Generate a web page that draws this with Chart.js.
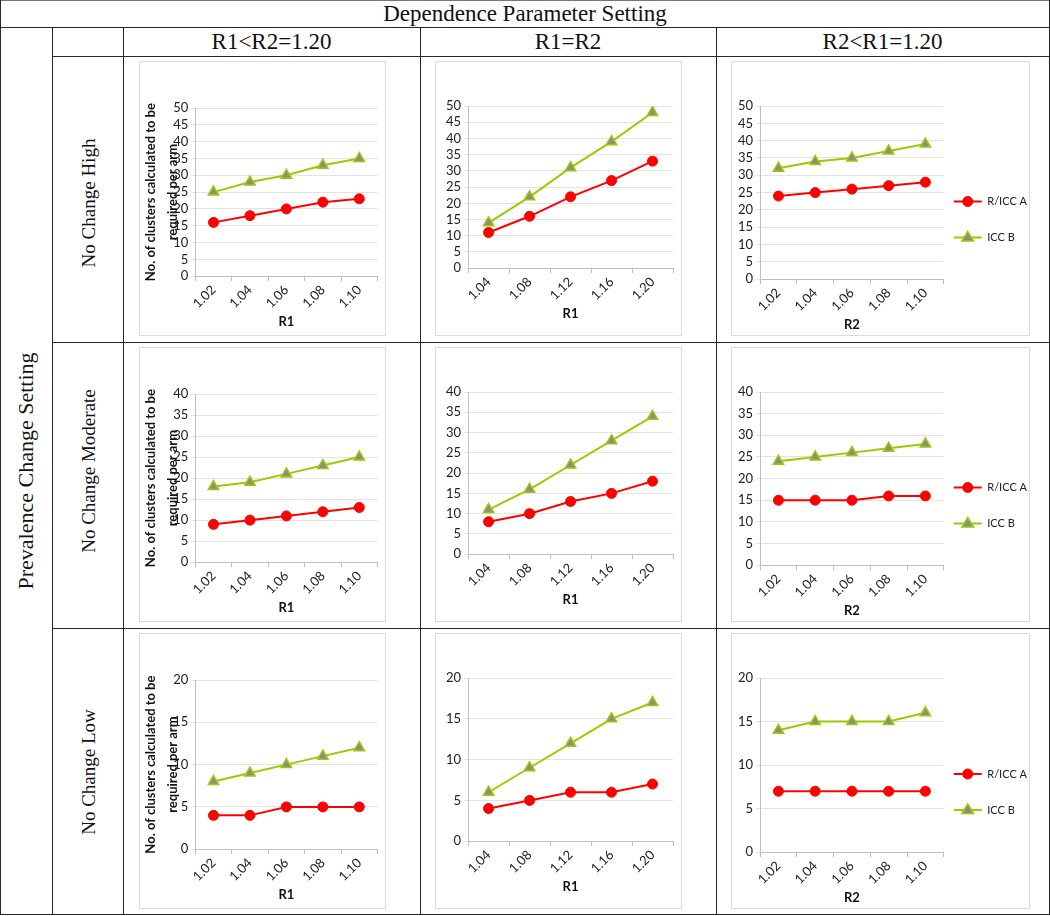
<!DOCTYPE html>
<html lang="en">
<head>
  <meta charset="UTF-8">
  <title>Dependence Parameter Setting</title>
  <script src="https://cdn.jsdelivr.net/npm/chart.js"></script>
  <style>
    body { margin: 0; background: #fff; }
    #page { position: relative; width: 1050px; height: 916px; font-family: "Liberation Serif", serif; color: #111; }
    .ln { position: absolute; background: #262626; }
    .txt { position: absolute; text-align: center; font-size: 23px; white-space: nowrap; }
    .rot { position: absolute; font-size: 19px; white-space: nowrap; transform: translate(-50%, -50%) rotate(-90deg); }
    .box { position: absolute; border: 1px solid #dcdcdc; box-sizing: border-box; }
    .box canvas { display: block; }
  </style>
</head>
<body>
<div id="page">
  <!-- table grid -->
  <div class="ln" style="left:0;top:0;width:1050px;height:1px;background:#777"></div>
  <div class="ln" style="left:0;top:27px;width:1050px;height:1px"></div>
  <div class="ln" style="left:52px;top:56px;width:998px;height:1px"></div>
  <div class="ln" style="left:52px;top:342px;width:998px;height:1px"></div>
  <div class="ln" style="left:52px;top:628px;width:998px;height:1px"></div>
  <div class="ln" style="left:0;top:914px;width:1050px;height:1px"></div>
  <div class="ln" style="left:0;top:0;width:1px;height:915px"></div>
  <div class="ln" style="left:52px;top:27px;width:1px;height:888px"></div>
  <div class="ln" style="left:123px;top:27px;width:1px;height:888px"></div>
  <div class="ln" style="left:420px;top:27px;width:1px;height:888px"></div>
  <div class="ln" style="left:716px;top:27px;width:1px;height:888px"></div>
  <div class="ln" style="left:1049px;top:0;width:1px;height:915px"></div>

  <!-- headers -->
  <div class="txt" style="left:0;top:0;width:1050px;line-height:28px">Dependence Parameter Setting</div>
  <div class="txt" style="left:123px;top:28px;width:297px;line-height:28px">R1&lt;R2=1.20</div>
  <div class="txt" style="left:420px;top:28px;width:296px;line-height:28px">R1=R2</div>
  <div class="txt" style="left:716px;top:28px;width:333px;line-height:28px">R2&lt;R1=1.20</div>

  <div class="rot" style="left:26px;top:471px;font-size:22px">Prevalence Change Setting</div>
  <div class="rot" style="left:89px;top:203px">No Change High</div>
  <div class="rot" style="left:89px;top:471px">No Change Moderate</div>
  <div class="rot" style="left:89px;top:772px">No Change Low</div>

  <!-- chart boxes -->
  <div class="box" style="left:139px;top:61px"><canvas id="c1" width="245" height="273"></canvas></div>
  <div class="box" style="left:435px;top:61px"><canvas id="c2" width="245" height="273"></canvas></div>
  <div class="box" style="left:731px;top:61px"><canvas id="c3" width="297" height="273"></canvas></div>
  <div class="box" style="left:139px;top:347px"><canvas id="c4" width="245" height="273"></canvas></div>
  <div class="box" style="left:435px;top:347px"><canvas id="c5" width="245" height="273"></canvas></div>
  <div class="box" style="left:731px;top:347px"><canvas id="c6" width="297" height="273"></canvas></div>
  <div class="box" style="left:139px;top:633px"><canvas id="c7" width="245" height="274"></canvas></div>
  <div class="box" style="left:435px;top:633px"><canvas id="c8" width="245" height="274"></canvas></div>
  <div class="box" style="left:731px;top:633px"><canvas id="c9" width="297" height="274"></canvas></div>
</div>

<script>
  // x categories
  const ratiosSmall = ['1.02', '1.04', '1.06', '1.08', '1.10'];
  const ratiosEqual = ['1.04', '1.08', '1.12', '1.16', '1.20'];
  const seriesNames = ['R/ICC A', 'ICC B'];

  // No Change High
  const highR1LessA = [16, 18, 20, 22, 23];
  const highR1LessB = [25, 28, 30, 33, 35];
  const highEqualA = [11, 16, 22, 27, 33];
  const highEqualB = [14, 22, 31, 39, 48];
  const highR2LessA = [24, 25, 26, 27, 28];
  const highR2LessB = [32, 34, 35, 37, 39];

  // No Change Moderate
  const modR1LessA = [9, 10, 11, 12, 13];
  const modR1LessB = [18, 19, 21, 23, 25];
  const modEqualA = [8, 10, 13, 15, 18];
  const modEqualB = [11, 16, 22, 28, 34];
  const modR2LessA = [15, 15, 15, 16, 16];
  const modR2LessB = [24, 25, 26, 27, 28];

  // No Change Low
  const lowR1LessA = [4, 4, 5, 5, 5];
  const lowR1LessB = [8, 9, 10, 11, 12];
  const lowEqualA = [4, 5, 6, 6, 7];
  const lowEqualB = [6, 9, 12, 15, 17];
  const lowR2LessA = [7, 7, 7, 7, 7];
  const lowR2LessB = [14, 15, 15, 15, 16];

  const yMaxHigh = 50, yMaxMod = 40, yMaxLow = 20;

  const tickFont = { family: 'Lato', size: 13 };
  const boldFont = { family: 'Lato', size: 13, weight: 'bold' };

  // legend sample: short line with the series marker on it
  function marker(ctx, style, x, y, r, fill, stroke, bw) {
    ctx.save();
    ctx.fillStyle = fill;
    ctx.strokeStyle = stroke;
    ctx.lineWidth = bw;
    ctx.beginPath();
    if (style === 'triangle') {
      ctx.moveTo(x, y - r);
      ctx.lineTo(x + r * 0.97, y + r * 0.6);
      ctx.lineTo(x - r * 0.97, y + r * 0.6);
      ctx.closePath();
    } else {
      ctx.arc(x, y, r, 0, Math.PI * 2);
    }
    ctx.fill();
    if (bw > 0) ctx.stroke();
    ctx.restore();
  }

  const legendMarkers = {
    id: 'legendMarkers',
    afterDraw(chart) {
      const lg = chart.legend;
      if (!lg || !lg.options.display || !lg.legendHitBoxes) return;
      const ctx = chart.ctx;
      const bw = lg.options.labels.boxWidth;
      lg.legendHitBoxes.forEach((hb, i) => {
        const ds = chart.data.datasets[i];
        const y = hb.top + hb.height / 2;
        ctx.save();
        ctx.strokeStyle = ds.borderColor;
        ctx.lineWidth = ds.borderWidth;
        ctx.beginPath();
        ctx.moveTo(hb.left, y);
        ctx.lineTo(hb.left + bw, y);
        ctx.stroke();
        ctx.restore();
        marker(ctx, ds.pointStyle, hb.left + bw / 2, y, ds.pointRadius, ds.pointBackgroundColor, ds.pointBorderColor, ds.pointBorderWidth);
      });
    }
  };

  // per column layout
  const columnLayout = {
    left:  { padding: { top: 46, bottom: 5, left: 0, right: 3 }, yTitle: true, legend: false },
    mid:   { padding: { top: 44, bottom: 13, left: 7, right: 8 }, yTitle: false, legend: false },
    right: { padding: { top: 44, bottom: 2, left: 3, right: -8 }, yTitle: false, legend: true }
  };

  function makeChart(id, labels, xTitle, a, b, yMax, column) {
    const lay = columnLayout[column];
    new Chart(document.getElementById(id), {
      type: 'line',
      data: {
        labels: labels,
        datasets: [{
          label: seriesNames[0],
          data: a,
          borderColor: '#ff0000',
          backgroundColor: '#ff0000',
          borderWidth: 2,
          pointStyle: 'circle',
          pointRadius: 5,
          pointBackgroundColor: '#ff0000',
          pointBorderColor: '#ff0000',
          pointBorderWidth: 1
        }, {
          label: seriesNames[1],
          data: b,
          borderColor: '#99cc00',
          backgroundColor: '#99cc00',
          borderWidth: 2,
          pointStyle: 'triangle',
          pointRadius: 6,
          pointBackgroundColor: '#8c8c8c',
          pointBorderColor: '#99cc00',
          pointBorderWidth: 1.5
        }]
      },
      options: {
        responsive: false,
        animation: false,
        layout: { padding: lay.padding },
        plugins: {
          tooltip: { enabled: false },
          legend: {
            display: lay.legend,
            position: 'right',
            maxWidth: 110,
            labels: {
              boxWidth: 28,
              boxHeight: 26,
              padding: 10,
              color: '#222',
              font: { family: 'Lato', size: 11 },
              generateLabels(chart) {
                const items = Chart.defaults.plugins.legend.labels.generateLabels(chart);
                items.forEach(it => { it.fillStyle = 'rgba(0,0,0,0)'; it.lineWidth = 0; });
                return items;
              }
            }
          }
        },
        scales: {
          x: {
            offset: true,
            grid: { offset: true, drawOnChartArea: false, color: '#bfbfbf', tickLength: 5 },
            border: { color: '#bfbfbf' },
            ticks: { minRotation: 45, maxRotation: 45, color: '#222', font: tickFont, padding: 1 },
            title: { display: true, text: xTitle, color: '#111', font: boldFont, padding: { top: 2, bottom: 0 } }
          },
          y: {
            min: 0,
            max: yMax,
            ticks: { stepSize: 5, autoSkip: false, color: '#222', font: tickFont, padding: 3 },
            grid: { color: '#e3e3e3', tickLength: 4 },
            border: { color: '#bfbfbf' },
            title: {
              display: lay.yTitle,
              text: ['No. of clusters calculated to be', 'required per arm'],
              color: '#111',
              font: { family: 'Lato', size: 13, weight: 'bold', lineHeight: 1.7 },
              padding: { top: 0, bottom: -14 }
            }
          }
        }
      },
      plugins: [legendMarkers]
    });
  }

  makeChart('c1', ratiosSmall, 'R1', highR1LessA, highR1LessB, yMaxHigh, 'left');
  makeChart('c2', ratiosEqual, 'R1', highEqualA, highEqualB, yMaxHigh, 'mid');
  makeChart('c3', ratiosSmall, 'R2', highR2LessA, highR2LessB, yMaxHigh, 'right');
  makeChart('c4', ratiosSmall, 'R1', modR1LessA, modR1LessB, yMaxMod, 'left');
  makeChart('c5', ratiosEqual, 'R1', modEqualA, modEqualB, yMaxMod, 'mid');
  makeChart('c6', ratiosSmall, 'R2', modR2LessA, modR2LessB, yMaxMod, 'right');
  makeChart('c7', ratiosSmall, 'R1', lowR1LessA, lowR1LessB, yMaxLow, 'left');
  makeChart('c8', ratiosEqual, 'R1', lowEqualA, lowEqualB, yMaxLow, 'mid');
  makeChart('c9', ratiosSmall, 'R2', lowR2LessA, lowR2LessB, yMaxLow, 'right');
</script>
</body>
</html>
